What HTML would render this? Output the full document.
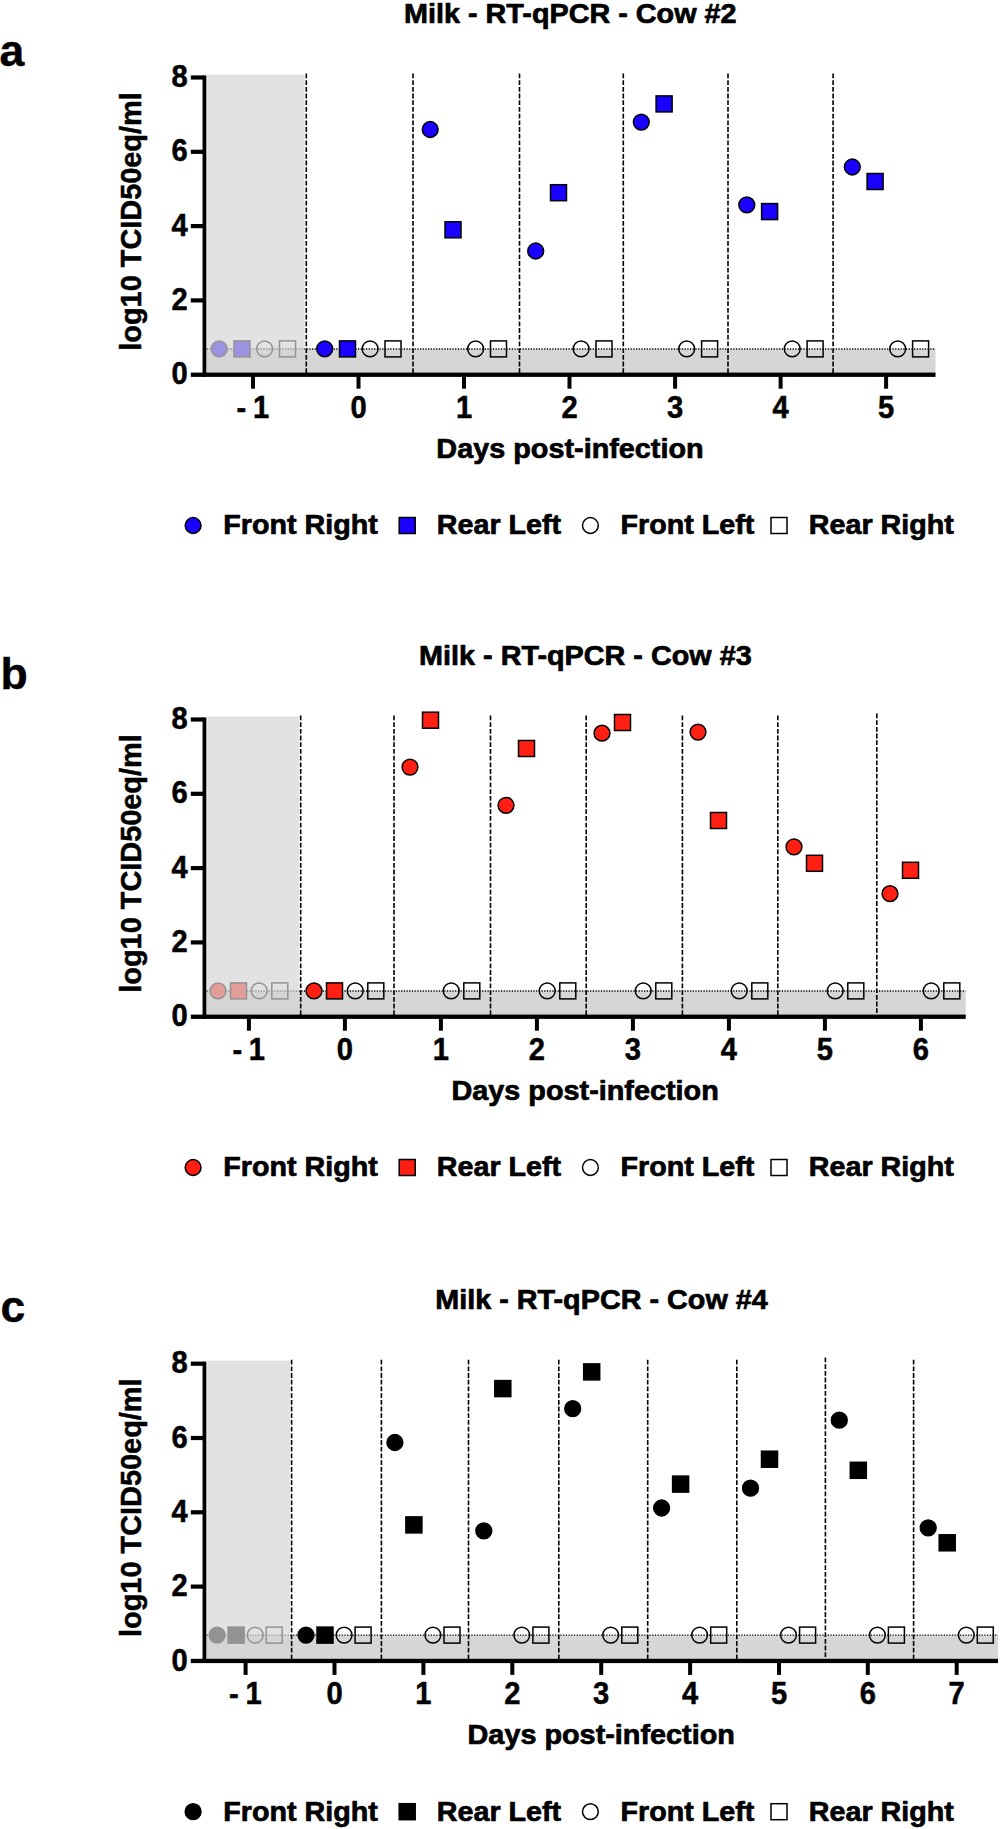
<!DOCTYPE html>
<html lang="en"><head><meta charset="utf-8"><title>Milk RT-qPCR</title>
<style>html,body{margin:0;padding:0;background:#fff}svg{display:block}</style></head>
<body>
<svg width="1000" height="1829" viewBox="0 0 1000 1829">
<rect width="1000" height="1829" fill="#fff"/>
<g>
<rect x="206.7" y="348.7" width="728.8" height="26.0" fill="#d6d6d6"/>
<line x1="206.7" y1="349.0" x2="935.5" y2="349.0" stroke="#000" stroke-width="1.3" stroke-dasharray="1.2 1.5"/>
<circle cx="264.6" cy="348.9" r="7.9" fill="none" stroke="#000" stroke-width="1.5"/>
<rect x="279.5" y="340.9" width="16.0" height="16.0" fill="none" stroke="#000" stroke-width="1.5"/>
<circle cx="219.2" cy="348.9" r="7.9" fill="#1a00ff" stroke="#000" stroke-width="1.5"/>
<rect x="234.0" y="340.9" width="16.0" height="16.0" fill="#1a00ff" stroke="#000" stroke-width="1.5"/>
<circle cx="370.1" cy="348.9" r="7.9" fill="none" stroke="#000" stroke-width="1.5"/>
<rect x="385.0" y="340.9" width="16.0" height="16.0" fill="none" stroke="#000" stroke-width="1.5"/>
<circle cx="324.7" cy="348.9" r="7.9" fill="#1a00ff" stroke="#000" stroke-width="1.5"/>
<rect x="339.5" y="340.9" width="16.0" height="16.0" fill="#1a00ff" stroke="#000" stroke-width="1.5"/>
<circle cx="475.6" cy="348.9" r="7.9" fill="none" stroke="#000" stroke-width="1.5"/>
<rect x="490.5" y="340.9" width="16.0" height="16.0" fill="none" stroke="#000" stroke-width="1.5"/>
<circle cx="430.2" cy="129.5" r="7.9" fill="#1a00ff" stroke="#000" stroke-width="1.5"/>
<rect x="445.0" y="221.8" width="16.0" height="16.0" fill="#1a00ff" stroke="#000" stroke-width="1.5"/>
<circle cx="581.1" cy="348.9" r="7.9" fill="none" stroke="#000" stroke-width="1.5"/>
<rect x="596.0" y="340.9" width="16.0" height="16.0" fill="none" stroke="#000" stroke-width="1.5"/>
<circle cx="535.7" cy="251.0" r="7.9" fill="#1a00ff" stroke="#000" stroke-width="1.5"/>
<rect x="550.5" y="184.7" width="16.0" height="16.0" fill="#1a00ff" stroke="#000" stroke-width="1.5"/>
<circle cx="686.7" cy="348.9" r="7.9" fill="none" stroke="#000" stroke-width="1.5"/>
<rect x="701.6" y="340.9" width="16.0" height="16.0" fill="none" stroke="#000" stroke-width="1.5"/>
<circle cx="641.3" cy="122.1" r="7.9" fill="#1a00ff" stroke="#000" stroke-width="1.5"/>
<rect x="656.1" y="95.9" width="16.0" height="16.0" fill="#1a00ff" stroke="#000" stroke-width="1.5"/>
<circle cx="792.2" cy="348.9" r="7.9" fill="none" stroke="#000" stroke-width="1.5"/>
<rect x="807.1" y="340.9" width="16.0" height="16.0" fill="none" stroke="#000" stroke-width="1.5"/>
<circle cx="746.8" cy="204.9" r="7.9" fill="#1a00ff" stroke="#000" stroke-width="1.5"/>
<rect x="761.6" y="203.6" width="16.0" height="16.0" fill="#1a00ff" stroke="#000" stroke-width="1.5"/>
<circle cx="897.7" cy="348.9" r="7.9" fill="none" stroke="#000" stroke-width="1.5"/>
<rect x="912.6" y="340.9" width="16.0" height="16.0" fill="none" stroke="#000" stroke-width="1.5"/>
<circle cx="852.3" cy="167.0" r="7.9" fill="#1a00ff" stroke="#000" stroke-width="1.5"/>
<rect x="867.1" y="173.5" width="16.0" height="16.0" fill="#1a00ff" stroke="#000" stroke-width="1.5"/>
<rect x="207.3" y="74.4" width="97.4" height="298.3" fill="#d5d5d5" fill-opacity="0.69"/>
<line x1="306.3" y1="73.5" x2="306.3" y2="374.7" stroke="#000" stroke-width="1.6" stroke-dasharray="4.8 1.9"/>
<line x1="413.0" y1="73.5" x2="413.0" y2="374.7" stroke="#000" stroke-width="1.6" stroke-dasharray="4.8 1.9"/>
<line x1="519.5" y1="73.5" x2="519.5" y2="374.7" stroke="#000" stroke-width="1.6" stroke-dasharray="4.8 1.9"/>
<line x1="623.3" y1="73.5" x2="623.3" y2="374.7" stroke="#000" stroke-width="1.6" stroke-dasharray="4.8 1.9"/>
<line x1="728.0" y1="73.5" x2="728.0" y2="374.7" stroke="#000" stroke-width="1.6" stroke-dasharray="4.8 1.9"/>
<line x1="833.1" y1="73.5" x2="833.1" y2="374.7" stroke="#000" stroke-width="1.6" stroke-dasharray="4.8 1.9"/>
<rect x="202.55" y="75.4" width="3.8" height="301.4" fill="#000"/>
<rect x="190.8" y="372.6" width="744.7" height="4.3" fill="#000"/>
<rect x="190.8" y="298.3" width="13" height="4.2" fill="#000"/>
<rect x="190.8" y="224.0" width="13" height="4.2" fill="#000"/>
<rect x="190.8" y="149.7" width="13" height="4.2" fill="#000"/>
<rect x="190.8" y="75.4" width="13" height="4.2" fill="#000"/>
<text transform="translate(187.7 384.3) scale(0.94 1.0)" text-anchor="end" font-size="31.0" font-family="Liberation Sans, Arial, Helvetica, sans-serif" font-weight="bold" stroke="#000" stroke-width="0.5" stroke-linejoin="round">0</text>
<text transform="translate(187.7 310.0) scale(0.94 1.0)" text-anchor="end" font-size="31.0" font-family="Liberation Sans, Arial, Helvetica, sans-serif" font-weight="bold" stroke="#000" stroke-width="0.5" stroke-linejoin="round">2</text>
<text transform="translate(187.7 235.7) scale(0.94 1.0)" text-anchor="end" font-size="31.0" font-family="Liberation Sans, Arial, Helvetica, sans-serif" font-weight="bold" stroke="#000" stroke-width="0.5" stroke-linejoin="round">4</text>
<text transform="translate(187.7 161.4) scale(0.94 1.0)" text-anchor="end" font-size="31.0" font-family="Liberation Sans, Arial, Helvetica, sans-serif" font-weight="bold" stroke="#000" stroke-width="0.5" stroke-linejoin="round">6</text>
<text transform="translate(187.7 87.1) scale(0.94 1.0)" text-anchor="end" font-size="31.0" font-family="Liberation Sans, Arial, Helvetica, sans-serif" font-weight="bold" stroke="#000" stroke-width="0.5" stroke-linejoin="round">8</text>
<rect x="251.0" y="374.7" width="4" height="14" fill="#000"/>
<text word-spacing="-1.5" transform="translate(252.8 417.6) scale(0.94 1.0)" text-anchor="middle" font-size="31.0" font-family="Liberation Sans, Arial, Helvetica, sans-serif" font-weight="bold" stroke="#000" stroke-width="0.5" stroke-linejoin="round">- 1</text>
<rect x="356.5" y="374.7" width="4" height="14" fill="#000"/>
<text transform="translate(358.5 417.6) scale(0.94 1.0)" text-anchor="middle" font-size="31.0" font-family="Liberation Sans, Arial, Helvetica, sans-serif" font-weight="bold" stroke="#000" stroke-width="0.5" stroke-linejoin="round">0</text>
<rect x="462.0" y="374.7" width="4" height="14" fill="#000"/>
<text transform="translate(464.0 417.6) scale(0.94 1.0)" text-anchor="middle" font-size="31.0" font-family="Liberation Sans, Arial, Helvetica, sans-serif" font-weight="bold" stroke="#000" stroke-width="0.5" stroke-linejoin="round">1</text>
<rect x="567.5" y="374.7" width="4" height="14" fill="#000"/>
<text transform="translate(569.5 417.6) scale(0.94 1.0)" text-anchor="middle" font-size="31.0" font-family="Liberation Sans, Arial, Helvetica, sans-serif" font-weight="bold" stroke="#000" stroke-width="0.5" stroke-linejoin="round">2</text>
<rect x="673.1" y="374.7" width="4" height="14" fill="#000"/>
<text transform="translate(675.1 417.6) scale(0.94 1.0)" text-anchor="middle" font-size="31.0" font-family="Liberation Sans, Arial, Helvetica, sans-serif" font-weight="bold" stroke="#000" stroke-width="0.5" stroke-linejoin="round">3</text>
<rect x="778.6" y="374.7" width="4" height="14" fill="#000"/>
<text transform="translate(780.6 417.6) scale(0.94 1.0)" text-anchor="middle" font-size="31.0" font-family="Liberation Sans, Arial, Helvetica, sans-serif" font-weight="bold" stroke="#000" stroke-width="0.5" stroke-linejoin="round">4</text>
<rect x="884.1" y="374.7" width="4" height="14" fill="#000"/>
<text transform="translate(886.1 417.6) scale(0.94 1.0)" text-anchor="middle" font-size="31.0" font-family="Liberation Sans, Arial, Helvetica, sans-serif" font-weight="bold" stroke="#000" stroke-width="0.5" stroke-linejoin="round">5</text>
<text transform="translate(570.3 22.5) scale(1.021 1.0)" text-anchor="middle" font-size="28.2" font-family="Liberation Sans, Arial, Helvetica, sans-serif" font-weight="bold" stroke="#000" stroke-width="0.7" stroke-linejoin="round">Milk - RT-qPCR - Cow #2</text>
<text transform="translate(570.0 457.5) scale(1.022 1.0)" text-anchor="middle" font-size="28.2" font-family="Liberation Sans, Arial, Helvetica, sans-serif" font-weight="bold" stroke="#000" stroke-width="0.7" stroke-linejoin="round">Days post-infection</text>
<text transform="translate(141.0 221.5) rotate(-90) scale(0.99 1.0)" text-anchor="middle" font-size="29.2" font-family="Liberation Sans, Arial, Helvetica, sans-serif" font-weight="bold" stroke="#000" stroke-width="0.5" stroke-linejoin="round">log10 TCID50eq/ml</text>
<text transform="translate(-0.5 66.3) scale(1.0 1.0)" text-anchor="start" font-size="44.5" font-family="Liberation Sans, Arial, Helvetica, sans-serif" font-weight="bold" stroke="#000" stroke-width="0.4" stroke-linejoin="round">a</text>
<circle cx="193.1" cy="525.5" r="7.9" fill="#1a00ff" stroke="#000" stroke-width="1.5"/>
<text transform="translate(223.2 534.3) scale(1.018 1.0)" text-anchor="start" font-size="28.2" font-family="Liberation Sans, Arial, Helvetica, sans-serif" font-weight="bold" stroke="#000" stroke-width="0.7" stroke-linejoin="round">Front Right</text>
<rect x="399.2" y="517.5" width="16.0" height="16.0" fill="#1a00ff" stroke="#000" stroke-width="1.5"/>
<text transform="translate(436.8 534.3) scale(1.018 1.0)" text-anchor="start" font-size="28.2" font-family="Liberation Sans, Arial, Helvetica, sans-serif" font-weight="bold" stroke="#000" stroke-width="0.7" stroke-linejoin="round">Rear Left</text>
<circle cx="590.4" cy="525.5" r="7.9" fill="none" stroke="#000" stroke-width="1.5"/>
<text transform="translate(620.5 534.3) scale(1.018 1.0)" text-anchor="start" font-size="28.2" font-family="Liberation Sans, Arial, Helvetica, sans-serif" font-weight="bold" stroke="#000" stroke-width="0.7" stroke-linejoin="round">Front Left</text>
<rect x="771.0" y="517.5" width="16.0" height="16.0" fill="none" stroke="#000" stroke-width="1.5"/>
<text transform="translate(808.8 534.3) scale(1.018 1.0)" text-anchor="start" font-size="28.2" font-family="Liberation Sans, Arial, Helvetica, sans-serif" font-weight="bold" stroke="#000" stroke-width="0.7" stroke-linejoin="round">Rear Right</text>
</g>
<g>
<rect x="206.7" y="990.7" width="759.0" height="26.0" fill="#d6d6d6"/>
<line x1="206.7" y1="991.0" x2="965.7" y2="991.0" stroke="#000" stroke-width="1.3" stroke-dasharray="1.2 1.5"/>
<circle cx="259.2" cy="990.9" r="7.9" fill="none" stroke="#000" stroke-width="1.5"/>
<rect x="271.8" y="982.9" width="16.0" height="16.0" fill="none" stroke="#000" stroke-width="1.5"/>
<circle cx="218.0" cy="990.9" r="7.9" fill="#ff2013" stroke="#000" stroke-width="1.5"/>
<rect x="230.5" y="982.9" width="16.0" height="16.0" fill="#ff2013" stroke="#000" stroke-width="1.5"/>
<circle cx="355.2" cy="990.9" r="7.9" fill="none" stroke="#000" stroke-width="1.5"/>
<rect x="367.8" y="982.9" width="16.0" height="16.0" fill="none" stroke="#000" stroke-width="1.5"/>
<circle cx="314.0" cy="990.9" r="7.9" fill="#ff2013" stroke="#000" stroke-width="1.5"/>
<rect x="326.5" y="982.9" width="16.0" height="16.0" fill="#ff2013" stroke="#000" stroke-width="1.5"/>
<circle cx="451.2" cy="990.9" r="7.9" fill="none" stroke="#000" stroke-width="1.5"/>
<rect x="463.8" y="982.9" width="16.0" height="16.0" fill="none" stroke="#000" stroke-width="1.5"/>
<circle cx="410.0" cy="767.1" r="7.9" fill="#ff2013" stroke="#000" stroke-width="1.5"/>
<rect x="422.5" y="712.2" width="16.0" height="16.0" fill="#ff2013" stroke="#000" stroke-width="1.5"/>
<circle cx="547.2" cy="990.9" r="7.9" fill="none" stroke="#000" stroke-width="1.5"/>
<rect x="559.8" y="982.9" width="16.0" height="16.0" fill="none" stroke="#000" stroke-width="1.5"/>
<circle cx="506.0" cy="805.3" r="7.9" fill="#ff2013" stroke="#000" stroke-width="1.5"/>
<rect x="518.5" y="740.5" width="16.0" height="16.0" fill="#ff2013" stroke="#000" stroke-width="1.5"/>
<circle cx="643.2" cy="990.9" r="7.9" fill="none" stroke="#000" stroke-width="1.5"/>
<rect x="655.8" y="982.9" width="16.0" height="16.0" fill="none" stroke="#000" stroke-width="1.5"/>
<circle cx="602.0" cy="733.2" r="7.9" fill="#ff2013" stroke="#000" stroke-width="1.5"/>
<rect x="614.5" y="714.5" width="16.0" height="16.0" fill="#ff2013" stroke="#000" stroke-width="1.5"/>
<circle cx="739.2" cy="990.9" r="7.9" fill="none" stroke="#000" stroke-width="1.5"/>
<rect x="751.8" y="982.9" width="16.0" height="16.0" fill="none" stroke="#000" stroke-width="1.5"/>
<circle cx="698.0" cy="732.1" r="7.9" fill="#ff2013" stroke="#000" stroke-width="1.5"/>
<rect x="710.5" y="812.5" width="16.0" height="16.0" fill="#ff2013" stroke="#000" stroke-width="1.5"/>
<circle cx="835.2" cy="990.9" r="7.9" fill="none" stroke="#000" stroke-width="1.5"/>
<rect x="847.8" y="982.9" width="16.0" height="16.0" fill="none" stroke="#000" stroke-width="1.5"/>
<circle cx="794.0" cy="846.9" r="7.9" fill="#ff2013" stroke="#000" stroke-width="1.5"/>
<rect x="806.5" y="855.3" width="16.0" height="16.0" fill="#ff2013" stroke="#000" stroke-width="1.5"/>
<circle cx="931.2" cy="990.9" r="7.9" fill="none" stroke="#000" stroke-width="1.5"/>
<rect x="943.8" y="982.9" width="16.0" height="16.0" fill="none" stroke="#000" stroke-width="1.5"/>
<circle cx="890.0" cy="893.7" r="7.9" fill="#ff2013" stroke="#000" stroke-width="1.5"/>
<rect x="902.5" y="862.3" width="16.0" height="16.0" fill="#ff2013" stroke="#000" stroke-width="1.5"/>
<rect x="207.3" y="716.4" width="91.8" height="298.3" fill="#d5d5d5" fill-opacity="0.69"/>
<line x1="300.7" y1="715.5" x2="300.7" y2="1016.7" stroke="#000" stroke-width="1.6" stroke-dasharray="4.8 1.9"/>
<line x1="394.0" y1="715.5" x2="394.0" y2="1016.7" stroke="#000" stroke-width="1.6" stroke-dasharray="4.8 1.9"/>
<line x1="490.5" y1="715.5" x2="490.5" y2="1016.7" stroke="#000" stroke-width="1.6" stroke-dasharray="4.8 1.9"/>
<line x1="586.2" y1="715.5" x2="586.2" y2="1016.7" stroke="#000" stroke-width="1.6" stroke-dasharray="4.8 1.9"/>
<line x1="682.4" y1="715.5" x2="682.4" y2="1016.7" stroke="#000" stroke-width="1.6" stroke-dasharray="4.8 1.9"/>
<line x1="777.8" y1="715.5" x2="777.8" y2="1016.7" stroke="#000" stroke-width="1.6" stroke-dasharray="4.8 1.9"/>
<line x1="876.8" y1="713.5" x2="876.8" y2="1016.7" stroke="#000" stroke-width="1.6" stroke-dasharray="4.8 1.9"/>
<rect x="202.55" y="717.4" width="3.8" height="301.4" fill="#000"/>
<rect x="190.8" y="1014.6" width="774.9" height="4.3" fill="#000"/>
<rect x="190.8" y="940.3" width="13" height="4.2" fill="#000"/>
<rect x="190.8" y="866.0" width="13" height="4.2" fill="#000"/>
<rect x="190.8" y="791.7" width="13" height="4.2" fill="#000"/>
<rect x="190.8" y="717.4" width="13" height="4.2" fill="#000"/>
<text transform="translate(187.7 1026.3) scale(0.94 1.0)" text-anchor="end" font-size="31.0" font-family="Liberation Sans, Arial, Helvetica, sans-serif" font-weight="bold" stroke="#000" stroke-width="0.5" stroke-linejoin="round">0</text>
<text transform="translate(187.7 952.0) scale(0.94 1.0)" text-anchor="end" font-size="31.0" font-family="Liberation Sans, Arial, Helvetica, sans-serif" font-weight="bold" stroke="#000" stroke-width="0.5" stroke-linejoin="round">2</text>
<text transform="translate(187.7 877.7) scale(0.94 1.0)" text-anchor="end" font-size="31.0" font-family="Liberation Sans, Arial, Helvetica, sans-serif" font-weight="bold" stroke="#000" stroke-width="0.5" stroke-linejoin="round">4</text>
<text transform="translate(187.7 803.4) scale(0.94 1.0)" text-anchor="end" font-size="31.0" font-family="Liberation Sans, Arial, Helvetica, sans-serif" font-weight="bold" stroke="#000" stroke-width="0.5" stroke-linejoin="round">6</text>
<text transform="translate(187.7 729.1) scale(0.94 1.0)" text-anchor="end" font-size="31.0" font-family="Liberation Sans, Arial, Helvetica, sans-serif" font-weight="bold" stroke="#000" stroke-width="0.5" stroke-linejoin="round">8</text>
<rect x="246.9" y="1016.7" width="4" height="14" fill="#000"/>
<text word-spacing="-1.5" transform="translate(248.7 1059.6) scale(0.94 1.0)" text-anchor="middle" font-size="31.0" font-family="Liberation Sans, Arial, Helvetica, sans-serif" font-weight="bold" stroke="#000" stroke-width="0.5" stroke-linejoin="round">- 1</text>
<rect x="342.9" y="1016.7" width="4" height="14" fill="#000"/>
<text transform="translate(344.9 1059.6) scale(0.94 1.0)" text-anchor="middle" font-size="31.0" font-family="Liberation Sans, Arial, Helvetica, sans-serif" font-weight="bold" stroke="#000" stroke-width="0.5" stroke-linejoin="round">0</text>
<rect x="438.9" y="1016.7" width="4" height="14" fill="#000"/>
<text transform="translate(440.9 1059.6) scale(0.94 1.0)" text-anchor="middle" font-size="31.0" font-family="Liberation Sans, Arial, Helvetica, sans-serif" font-weight="bold" stroke="#000" stroke-width="0.5" stroke-linejoin="round">1</text>
<rect x="534.9" y="1016.7" width="4" height="14" fill="#000"/>
<text transform="translate(536.9 1059.6) scale(0.94 1.0)" text-anchor="middle" font-size="31.0" font-family="Liberation Sans, Arial, Helvetica, sans-serif" font-weight="bold" stroke="#000" stroke-width="0.5" stroke-linejoin="round">2</text>
<rect x="630.9" y="1016.7" width="4" height="14" fill="#000"/>
<text transform="translate(632.9 1059.6) scale(0.94 1.0)" text-anchor="middle" font-size="31.0" font-family="Liberation Sans, Arial, Helvetica, sans-serif" font-weight="bold" stroke="#000" stroke-width="0.5" stroke-linejoin="round">3</text>
<rect x="726.9" y="1016.7" width="4" height="14" fill="#000"/>
<text transform="translate(728.9 1059.6) scale(0.94 1.0)" text-anchor="middle" font-size="31.0" font-family="Liberation Sans, Arial, Helvetica, sans-serif" font-weight="bold" stroke="#000" stroke-width="0.5" stroke-linejoin="round">4</text>
<rect x="822.9" y="1016.7" width="4" height="14" fill="#000"/>
<text transform="translate(824.9 1059.6) scale(0.94 1.0)" text-anchor="middle" font-size="31.0" font-family="Liberation Sans, Arial, Helvetica, sans-serif" font-weight="bold" stroke="#000" stroke-width="0.5" stroke-linejoin="round">5</text>
<rect x="918.9" y="1016.7" width="4" height="14" fill="#000"/>
<text transform="translate(920.9 1059.6) scale(0.94 1.0)" text-anchor="middle" font-size="31.0" font-family="Liberation Sans, Arial, Helvetica, sans-serif" font-weight="bold" stroke="#000" stroke-width="0.5" stroke-linejoin="round">6</text>
<text transform="translate(585.4 664.5) scale(1.021 1.0)" text-anchor="middle" font-size="28.2" font-family="Liberation Sans, Arial, Helvetica, sans-serif" font-weight="bold" stroke="#000" stroke-width="0.7" stroke-linejoin="round">Milk - RT-qPCR - Cow #3</text>
<text transform="translate(585.1 1099.5) scale(1.022 1.0)" text-anchor="middle" font-size="28.2" font-family="Liberation Sans, Arial, Helvetica, sans-serif" font-weight="bold" stroke="#000" stroke-width="0.7" stroke-linejoin="round">Days post-infection</text>
<text transform="translate(141.0 863.5) rotate(-90) scale(0.99 1.0)" text-anchor="middle" font-size="29.2" font-family="Liberation Sans, Arial, Helvetica, sans-serif" font-weight="bold" stroke="#000" stroke-width="0.5" stroke-linejoin="round">log10 TCID50eq/ml</text>
<text transform="translate(0.5 688.5) scale(1.0 1.0)" text-anchor="start" font-size="44.5" font-family="Liberation Sans, Arial, Helvetica, sans-serif" font-weight="bold" stroke="#000" stroke-width="0.4" stroke-linejoin="round">b</text>
<circle cx="193.1" cy="1167.5" r="7.9" fill="#ff2013" stroke="#000" stroke-width="1.5"/>
<text transform="translate(223.2 1176.3) scale(1.018 1.0)" text-anchor="start" font-size="28.2" font-family="Liberation Sans, Arial, Helvetica, sans-serif" font-weight="bold" stroke="#000" stroke-width="0.7" stroke-linejoin="round">Front Right</text>
<rect x="399.2" y="1159.5" width="16.0" height="16.0" fill="#ff2013" stroke="#000" stroke-width="1.5"/>
<text transform="translate(436.8 1176.3) scale(1.018 1.0)" text-anchor="start" font-size="28.2" font-family="Liberation Sans, Arial, Helvetica, sans-serif" font-weight="bold" stroke="#000" stroke-width="0.7" stroke-linejoin="round">Rear Left</text>
<circle cx="590.4" cy="1167.5" r="7.9" fill="none" stroke="#000" stroke-width="1.5"/>
<text transform="translate(620.5 1176.3) scale(1.018 1.0)" text-anchor="start" font-size="28.2" font-family="Liberation Sans, Arial, Helvetica, sans-serif" font-weight="bold" stroke="#000" stroke-width="0.7" stroke-linejoin="round">Front Left</text>
<rect x="771.0" y="1159.5" width="16.0" height="16.0" fill="none" stroke="#000" stroke-width="1.5"/>
<text transform="translate(808.8 1176.3) scale(1.018 1.0)" text-anchor="start" font-size="28.2" font-family="Liberation Sans, Arial, Helvetica, sans-serif" font-weight="bold" stroke="#000" stroke-width="0.7" stroke-linejoin="round">Rear Right</text>
</g>
<g>
<rect x="206.7" y="1634.9" width="791.3" height="26.0" fill="#d6d6d6"/>
<line x1="206.7" y1="1635.2" x2="998.0" y2="1635.2" stroke="#000" stroke-width="1.3" stroke-dasharray="1.2 1.5"/>
<circle cx="255.2" cy="1635.1" r="7.9" fill="none" stroke="#000" stroke-width="1.5"/>
<rect x="266.2" y="1627.1" width="16.0" height="16.0" fill="none" stroke="#000" stroke-width="1.5"/>
<circle cx="217.1" cy="1635.1" r="7.9" fill="#000" stroke="#000" stroke-width="1.5"/>
<rect x="228.1" y="1627.1" width="16.0" height="16.0" fill="#000" stroke="#000" stroke-width="1.5"/>
<circle cx="344.1" cy="1635.1" r="7.9" fill="none" stroke="#000" stroke-width="1.5"/>
<rect x="355.1" y="1627.1" width="16.0" height="16.0" fill="none" stroke="#000" stroke-width="1.5"/>
<circle cx="306.0" cy="1635.1" r="7.9" fill="#000" stroke="#000" stroke-width="1.5"/>
<rect x="317.0" y="1627.1" width="16.0" height="16.0" fill="#000" stroke="#000" stroke-width="1.5"/>
<circle cx="432.9" cy="1635.1" r="7.9" fill="none" stroke="#000" stroke-width="1.5"/>
<rect x="444.0" y="1627.1" width="16.0" height="16.0" fill="none" stroke="#000" stroke-width="1.5"/>
<circle cx="394.9" cy="1442.5" r="7.9" fill="#000" stroke="#000" stroke-width="1.5"/>
<rect x="405.9" y="1516.9" width="16.0" height="16.0" fill="#000" stroke="#000" stroke-width="1.5"/>
<circle cx="521.8" cy="1635.1" r="7.9" fill="none" stroke="#000" stroke-width="1.5"/>
<rect x="532.9" y="1627.1" width="16.0" height="16.0" fill="none" stroke="#000" stroke-width="1.5"/>
<circle cx="483.8" cy="1530.9" r="7.9" fill="#000" stroke="#000" stroke-width="1.5"/>
<rect x="494.8" y="1380.6" width="16.0" height="16.0" fill="#000" stroke="#000" stroke-width="1.5"/>
<circle cx="610.7" cy="1635.1" r="7.9" fill="none" stroke="#000" stroke-width="1.5"/>
<rect x="621.8" y="1627.1" width="16.0" height="16.0" fill="none" stroke="#000" stroke-width="1.5"/>
<circle cx="572.7" cy="1408.7" r="7.9" fill="#000" stroke="#000" stroke-width="1.5"/>
<rect x="583.7" y="1363.9" width="16.0" height="16.0" fill="#000" stroke="#000" stroke-width="1.5"/>
<circle cx="699.6" cy="1635.1" r="7.9" fill="none" stroke="#000" stroke-width="1.5"/>
<rect x="710.7" y="1627.1" width="16.0" height="16.0" fill="none" stroke="#000" stroke-width="1.5"/>
<circle cx="661.6" cy="1508.0" r="7.9" fill="#000" stroke="#000" stroke-width="1.5"/>
<rect x="672.6" y="1476.1" width="16.0" height="16.0" fill="#000" stroke="#000" stroke-width="1.5"/>
<circle cx="788.5" cy="1635.1" r="7.9" fill="none" stroke="#000" stroke-width="1.5"/>
<rect x="799.6" y="1627.1" width="16.0" height="16.0" fill="none" stroke="#000" stroke-width="1.5"/>
<circle cx="750.5" cy="1488.2" r="7.9" fill="#000" stroke="#000" stroke-width="1.5"/>
<rect x="761.5" y="1451.2" width="16.0" height="16.0" fill="#000" stroke="#000" stroke-width="1.5"/>
<circle cx="877.4" cy="1635.1" r="7.9" fill="none" stroke="#000" stroke-width="1.5"/>
<rect x="888.4" y="1627.1" width="16.0" height="16.0" fill="none" stroke="#000" stroke-width="1.5"/>
<circle cx="839.3" cy="1420.2" r="7.9" fill="#000" stroke="#000" stroke-width="1.5"/>
<rect x="850.3" y="1462.3" width="16.0" height="16.0" fill="#000" stroke="#000" stroke-width="1.5"/>
<circle cx="966.3" cy="1635.1" r="7.9" fill="none" stroke="#000" stroke-width="1.5"/>
<rect x="977.3" y="1627.1" width="16.0" height="16.0" fill="none" stroke="#000" stroke-width="1.5"/>
<circle cx="928.2" cy="1527.9" r="7.9" fill="#000" stroke="#000" stroke-width="1.5"/>
<rect x="939.2" y="1534.8" width="16.0" height="16.0" fill="#000" stroke="#000" stroke-width="1.5"/>
<rect x="207.3" y="1360.6" width="82.7" height="298.3" fill="#d5d5d5" fill-opacity="0.69"/>
<line x1="291.6" y1="1359.7" x2="291.6" y2="1660.9" stroke="#000" stroke-width="1.6" stroke-dasharray="4.8 1.9"/>
<line x1="381.4" y1="1359.7" x2="381.4" y2="1660.9" stroke="#000" stroke-width="1.6" stroke-dasharray="4.8 1.9"/>
<line x1="468.5" y1="1359.7" x2="468.5" y2="1660.9" stroke="#000" stroke-width="1.6" stroke-dasharray="4.8 1.9"/>
<line x1="558.8" y1="1359.7" x2="558.8" y2="1660.9" stroke="#000" stroke-width="1.6" stroke-dasharray="4.8 1.9"/>
<line x1="647.7" y1="1359.7" x2="647.7" y2="1660.9" stroke="#000" stroke-width="1.6" stroke-dasharray="4.8 1.9"/>
<line x1="736.8" y1="1359.7" x2="736.8" y2="1660.9" stroke="#000" stroke-width="1.6" stroke-dasharray="4.8 1.9"/>
<line x1="825.4" y1="1357.5" x2="825.4" y2="1660.9" stroke="#000" stroke-width="1.6" stroke-dasharray="4.8 1.9"/>
<line x1="913.6" y1="1359.7" x2="913.6" y2="1660.9" stroke="#000" stroke-width="1.6" stroke-dasharray="4.8 1.9"/>
<rect x="202.55" y="1361.6" width="3.8" height="301.4" fill="#000"/>
<rect x="190.8" y="1658.8" width="807.2" height="4.3" fill="#000"/>
<rect x="190.8" y="1584.5" width="13" height="4.2" fill="#000"/>
<rect x="190.8" y="1510.2" width="13" height="4.2" fill="#000"/>
<rect x="190.8" y="1435.9" width="13" height="4.2" fill="#000"/>
<rect x="190.8" y="1361.6" width="13" height="4.2" fill="#000"/>
<text transform="translate(187.7 1670.5) scale(0.94 1.0)" text-anchor="end" font-size="31.0" font-family="Liberation Sans, Arial, Helvetica, sans-serif" font-weight="bold" stroke="#000" stroke-width="0.5" stroke-linejoin="round">0</text>
<text transform="translate(187.7 1596.2) scale(0.94 1.0)" text-anchor="end" font-size="31.0" font-family="Liberation Sans, Arial, Helvetica, sans-serif" font-weight="bold" stroke="#000" stroke-width="0.5" stroke-linejoin="round">2</text>
<text transform="translate(187.7 1521.9) scale(0.94 1.0)" text-anchor="end" font-size="31.0" font-family="Liberation Sans, Arial, Helvetica, sans-serif" font-weight="bold" stroke="#000" stroke-width="0.5" stroke-linejoin="round">4</text>
<text transform="translate(187.7 1447.6) scale(0.94 1.0)" text-anchor="end" font-size="31.0" font-family="Liberation Sans, Arial, Helvetica, sans-serif" font-weight="bold" stroke="#000" stroke-width="0.5" stroke-linejoin="round">6</text>
<text transform="translate(187.7 1373.3) scale(0.94 1.0)" text-anchor="end" font-size="31.0" font-family="Liberation Sans, Arial, Helvetica, sans-serif" font-weight="bold" stroke="#000" stroke-width="0.5" stroke-linejoin="round">8</text>
<rect x="243.6" y="1660.9" width="4" height="14" fill="#000"/>
<text word-spacing="-1.5" transform="translate(245.4 1703.8) scale(0.94 1.0)" text-anchor="middle" font-size="31.0" font-family="Liberation Sans, Arial, Helvetica, sans-serif" font-weight="bold" stroke="#000" stroke-width="0.5" stroke-linejoin="round">- 1</text>
<rect x="332.5" y="1660.9" width="4" height="14" fill="#000"/>
<text transform="translate(334.5 1703.8) scale(0.94 1.0)" text-anchor="middle" font-size="31.0" font-family="Liberation Sans, Arial, Helvetica, sans-serif" font-weight="bold" stroke="#000" stroke-width="0.5" stroke-linejoin="round">0</text>
<rect x="421.4" y="1660.9" width="4" height="14" fill="#000"/>
<text transform="translate(423.4 1703.8) scale(0.94 1.0)" text-anchor="middle" font-size="31.0" font-family="Liberation Sans, Arial, Helvetica, sans-serif" font-weight="bold" stroke="#000" stroke-width="0.5" stroke-linejoin="round">1</text>
<rect x="510.3" y="1660.9" width="4" height="14" fill="#000"/>
<text transform="translate(512.3 1703.8) scale(0.94 1.0)" text-anchor="middle" font-size="31.0" font-family="Liberation Sans, Arial, Helvetica, sans-serif" font-weight="bold" stroke="#000" stroke-width="0.5" stroke-linejoin="round">2</text>
<rect x="599.2" y="1660.9" width="4" height="14" fill="#000"/>
<text transform="translate(601.2 1703.8) scale(0.94 1.0)" text-anchor="middle" font-size="31.0" font-family="Liberation Sans, Arial, Helvetica, sans-serif" font-weight="bold" stroke="#000" stroke-width="0.5" stroke-linejoin="round">3</text>
<rect x="688.1" y="1660.9" width="4" height="14" fill="#000"/>
<text transform="translate(690.1 1703.8) scale(0.94 1.0)" text-anchor="middle" font-size="31.0" font-family="Liberation Sans, Arial, Helvetica, sans-serif" font-weight="bold" stroke="#000" stroke-width="0.5" stroke-linejoin="round">4</text>
<rect x="777.0" y="1660.9" width="4" height="14" fill="#000"/>
<text transform="translate(779.0 1703.8) scale(0.94 1.0)" text-anchor="middle" font-size="31.0" font-family="Liberation Sans, Arial, Helvetica, sans-serif" font-weight="bold" stroke="#000" stroke-width="0.5" stroke-linejoin="round">5</text>
<rect x="865.8" y="1660.9" width="4" height="14" fill="#000"/>
<text transform="translate(867.8 1703.8) scale(0.94 1.0)" text-anchor="middle" font-size="31.0" font-family="Liberation Sans, Arial, Helvetica, sans-serif" font-weight="bold" stroke="#000" stroke-width="0.5" stroke-linejoin="round">6</text>
<rect x="954.7" y="1660.9" width="4" height="14" fill="#000"/>
<text transform="translate(956.7 1703.8) scale(0.94 1.0)" text-anchor="middle" font-size="31.0" font-family="Liberation Sans, Arial, Helvetica, sans-serif" font-weight="bold" stroke="#000" stroke-width="0.5" stroke-linejoin="round">7</text>
<text transform="translate(601.5 1308.7) scale(1.021 1.0)" text-anchor="middle" font-size="28.2" font-family="Liberation Sans, Arial, Helvetica, sans-serif" font-weight="bold" stroke="#000" stroke-width="0.7" stroke-linejoin="round">Milk - RT-qPCR - Cow #4</text>
<text transform="translate(601.2 1743.7) scale(1.022 1.0)" text-anchor="middle" font-size="28.2" font-family="Liberation Sans, Arial, Helvetica, sans-serif" font-weight="bold" stroke="#000" stroke-width="0.7" stroke-linejoin="round">Days post-infection</text>
<text transform="translate(141.0 1507.7) rotate(-90) scale(0.99 1.0)" text-anchor="middle" font-size="29.2" font-family="Liberation Sans, Arial, Helvetica, sans-serif" font-weight="bold" stroke="#000" stroke-width="0.5" stroke-linejoin="round">log10 TCID50eq/ml</text>
<text transform="translate(0.5 1321.8) scale(1.0 1.0)" text-anchor="start" font-size="44.5" font-family="Liberation Sans, Arial, Helvetica, sans-serif" font-weight="bold" stroke="#000" stroke-width="0.4" stroke-linejoin="round">c</text>
<circle cx="193.1" cy="1811.7" r="7.9" fill="#000" stroke="#000" stroke-width="1.5"/>
<text transform="translate(223.2 1820.5) scale(1.018 1.0)" text-anchor="start" font-size="28.2" font-family="Liberation Sans, Arial, Helvetica, sans-serif" font-weight="bold" stroke="#000" stroke-width="0.7" stroke-linejoin="round">Front Right</text>
<rect x="399.2" y="1803.7" width="16.0" height="16.0" fill="#000" stroke="#000" stroke-width="1.5"/>
<text transform="translate(436.8 1820.5) scale(1.018 1.0)" text-anchor="start" font-size="28.2" font-family="Liberation Sans, Arial, Helvetica, sans-serif" font-weight="bold" stroke="#000" stroke-width="0.7" stroke-linejoin="round">Rear Left</text>
<circle cx="590.4" cy="1811.7" r="7.9" fill="none" stroke="#000" stroke-width="1.5"/>
<text transform="translate(620.5 1820.5) scale(1.018 1.0)" text-anchor="start" font-size="28.2" font-family="Liberation Sans, Arial, Helvetica, sans-serif" font-weight="bold" stroke="#000" stroke-width="0.7" stroke-linejoin="round">Front Left</text>
<rect x="771.0" y="1803.7" width="16.0" height="16.0" fill="none" stroke="#000" stroke-width="1.5"/>
<text transform="translate(808.8 1820.5) scale(1.018 1.0)" text-anchor="start" font-size="28.2" font-family="Liberation Sans, Arial, Helvetica, sans-serif" font-weight="bold" stroke="#000" stroke-width="0.7" stroke-linejoin="round">Rear Right</text>
</g>
</svg>
</body></html>
